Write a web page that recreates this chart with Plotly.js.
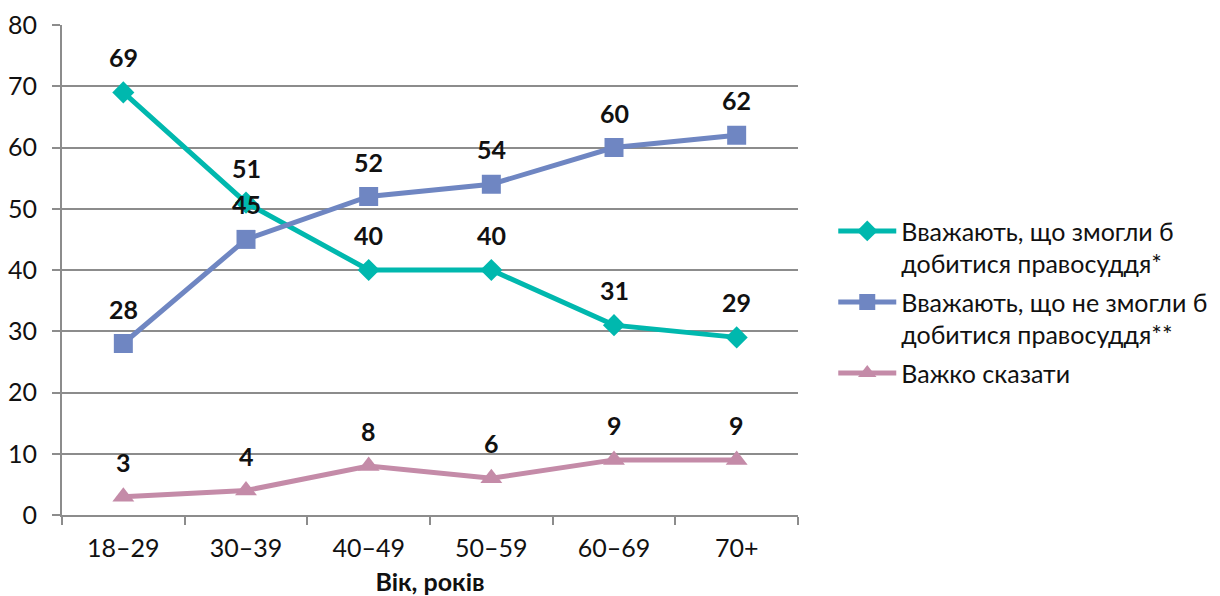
<!DOCTYPE html>
<html><head><meta charset="utf-8">
<script src="https://cdn.plot.ly/plotly-3.0.1.min.js"></script>
<style>body{margin:0;background:#fff}#chart{width:1220px;height:596px}</style>
</head><body><div id="chart"></div>
<script>
const categories = ['18–29','30–39','40–49','50–59','60–69','70+'];
const couldAchieve = [69,51,40,40,31,29];
const couldNotAchieve = [28,45,52,54,60,62];
const hardToSay = [3,4,8,6,9,9];
const seriesNames = ['Вважають, що змогли б<br>добитися правосуддя*','Вважають, що не змогли б<br>добитися правосуддя**','Важко сказати'];
const xTitle = 'Вік, років';

const font = 'Lato, "Open Sans", sans-serif';
const colors = ['#00B8AE','#6F86C2','#C48BA8'];
const symbols = ['diamond','square','triangle-up'];
const sizes = [17,19,19];
const series = [couldAchieve, couldNotAchieve, hardToSay];

const traces = series.map((ys,i)=>({
  type:'scatter', mode:'lines+markers', x:categories, y:ys, name:seriesNames[i], legendgroup:'g'+i,
  line:{color:colors[i], width:5}, marker:{symbol:symbols[i], size:sizes[i], color:colors[i]}
}));

const annotations = [];
series.forEach((ys)=>ys.forEach((v,j)=>annotations.push({
  x:categories[j], y:v, text:String(v), showarrow:false, yshift:35,
  font:{family:font, size:25, color:'#111', weight:'bold'}
})));

const layout = {
  width:1220, height:596,
  margin:{l:62, r:422, t:25, b:81},
  paper_bgcolor:'#fff', plot_bgcolor:'#fff',
  font:{family:font, size:25, color:'#111'},
  showlegend:true,
  legend:{xref:'container', yref:'container', x:0.683, xanchor:'left', y:0.493, yanchor:'middle', valign:'top', traceorder:'grouped',
    font:{size:25, family:font, color:'#111'}, tracegroupgap:3, itemwidth:58},
  xaxis:{type:'category', range:[-0.5,5.5], showline:true, linecolor:'#8c8c8c', linewidth:2, ticks:'outside', tickson:'boundaries', ticklen:8, tickcolor:'#8c8c8c', tickwidth:2, showgrid:false, tickfont:{size:25}, ticklabelstandoff:10,
    title:{text:'<b>'+xTitle+'</b>', font:{size:25}, standoff:13}},
  yaxis:{range:[0,80], dtick:10, showline:true, linecolor:'#8c8c8c', linewidth:2, ticks:'outside', ticklen:8, tickcolor:'#8c8c8c', tickwidth:2, gridcolor:'#8c8c8c', gridwidth:2, zeroline:false, tickfont:{size:25}, ticklabelstandoff:10},
  annotations:annotations
};
Plotly.newPlot('chart', traces, layout, {displayModeBar:false});
</script></body></html>
